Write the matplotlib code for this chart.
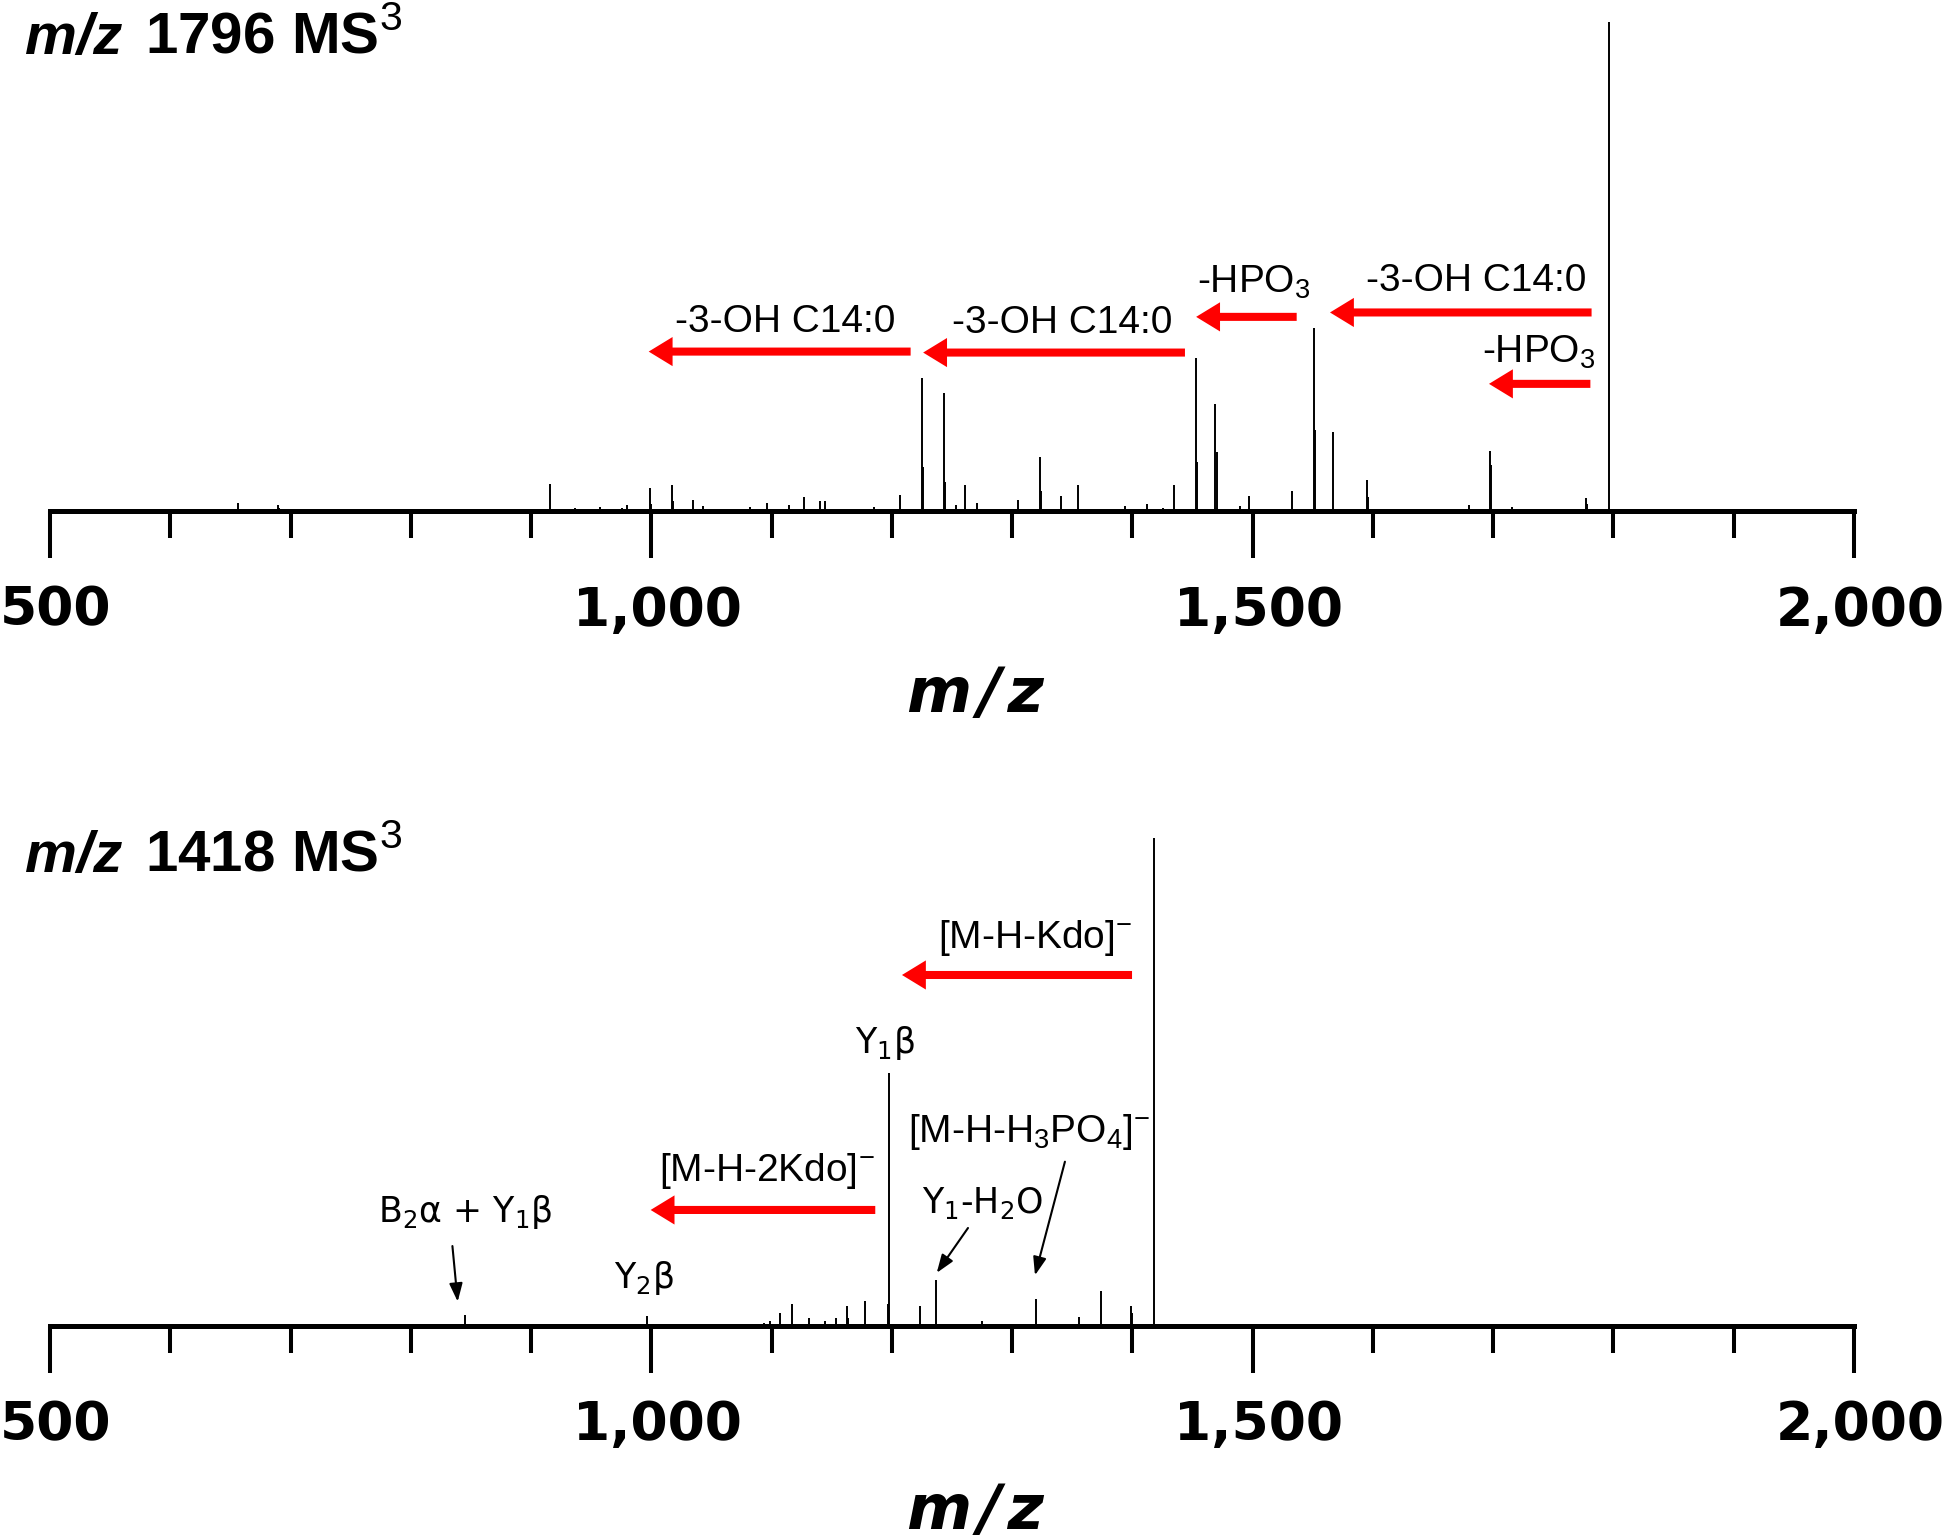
import numpy as np
import matplotlib
matplotlib.use("Agg")
import matplotlib.pyplot as plt
from matplotlib.ticker import MultipleLocator, FuncFormatter
from matplotlib.transforms import ScaledTranslation

plt.rcParams["mathtext.fontset"] = "custom"
plt.rcParams["mathtext.rm"] = "Liberation Sans"

# spectrum 1: m/z 1796 MS3 (relative intensity, %)
top_mz = [656, 689.5, 690.5, 798, 850, 916, 936.6, 957, 975.6, 980, 999, 1000,
          1017, 1018, 1034.6, 1042.7, 1082, 1096.4, 1114.6, 1127, 1140.6, 1144.5,
          1155, 1185, 1207, 1225.3, 1226.3, 1243, 1244, 1253, 1260.8, 1270.6,
          1305, 1323, 1324, 1341, 1355, 1394, 1412, 1425.5, 1435, 1453, 1454,
          1469, 1470, 1489.4, 1497, 1533, 1550.7, 1551.7, 1567, 1595, 1596,
          1680, 1697.3, 1698.3, 1715.3, 1777, 1778, 1796.5]
top_int = [1.6, 1.3, 0.6, 0.4, 0.4, 5.6, 0.6, 0.8, 0.6, 1.3, 4.7, 1.5,
           5.3, 2.0, 2.3, 1.0, 0.8, 1.6, 1.2, 2.9, 2.0, 2.0,
           0.5, 0.8, 3.3, 27.3, 9.0, 24.2, 6.0, 1.3, 5.3, 1.6,
           2.3, 11.1, 4.0, 3.0, 5.3, 1.0, 1.5, 0.7, 5.3, 31.2, 10.0,
           21.8, 12.0, 1.0, 3.0, 4.0, 37.5, 16.6, 16.2, 6.4, 2.9,
           1.2, 12.3, 9.5, 0.8, 2.7, 1.5, 100]

# spectrum 2: m/z 1418 MS3
bot_mz = [844.8, 996, 1093.6, 1099, 1106.6, 1117, 1131.4, 1144, 1153.6, 1162.4,
          1163.4, 1178, 1196.9, 1197.9, 1223.6, 1236.7, 1275.2, 1319.8, 1355.6,
          1373.6, 1399, 1400, 1418.2]
bot_int = [2.2, 2.0, 0.5, 1.0, 2.5, 4.5, 1.6, 1.0, 1.5, 3.9,
           1.5, 5.1, 4.5, 51.7, 3.9, 9.4, 1.0, 5.5, 1.8,
           7.0, 3.9, 2.5, 100]

tick_values = [500, 1000, 1500, 2000]

W, H = 1947, 1538


def fx(px):
    return px / W


def fy(py):
    return 1 - py / H


fig = plt.figure(figsize=(W / 100, H / 100), dpi=100)
ax1 = fig.add_axes([fx(50), fy(511), 1804 / W, 489 / H])
ax2 = fig.add_axes([fx(50), fy(1325.5), 1804 / W, 487.5 / H])


def style_axis(ax):
    ax.set_xlim(500, 2000)
    ax.set_ylim(0, 100)
    for s in ["left", "right", "top"]:
        ax.spines[s].set_visible(False)
    ax.spines["bottom"].set_linewidth(3.6)
    ax.set_yticks([])
    ax.set_xticks(tick_values)
    ax.xaxis.set_minor_locator(MultipleLocator(100))
    ax.xaxis.set_major_formatter(FuncFormatter(lambda v, p: f"{int(v):,}"))
    ax.tick_params(axis="x", which="major", direction="out", length=34,
                   width=2.9, pad=19, labelsize=38.5)
    ax.tick_params(axis="x", which="minor", direction="out", length=19.5,
                   width=2.9)
    shift = ScaledTranslation(6 / 100, 0, fig.dpi_scale_trans)
    for t in ax.xaxis.get_major_ticks():
        t.label1.set_fontfamily("DejaVu Sans")
        t.label1.set_fontweight("bold")
        t.label1.set_transform(t.label1.get_transform() + shift)


def red_arrow(ax, tail, tip, y):
    ax.annotate("", xy=(tip, y), xytext=(tail, y),
                arrowprops=dict(arrowstyle="simple,head_length=0.86,head_width=1.05,tail_width=0.29",
                                fc="red", ec="red", lw=0, shrinkA=0, shrinkB=0,
                                mutation_scale=20))


def black_arrow(ax, start, end):
    ax.annotate("", xy=end, xytext=start,
                arrowprops=dict(arrowstyle="-|>,head_length=0.55,head_width=0.2",
                                color="black", lw=1.5, shrinkA=0, shrinkB=0,
                                mutation_scale=20))


arial = dict(fontfamily="Liberation Sans", fontsize=28, va="baseline")
dvs = dict(fontfamily="DejaVu Sans", fontsize=25, va="baseline")

# ---- top spectrum ----
style_axis(ax1)
ax1.vlines(top_mz, 0, top_int, colors="black", lw=1.4)

red_arrow(ax1, 1781.8, 1564.3, 40.6)
ax1.text(1777.7, 44.9, "-3-OH C14:0", ha="right", **arial)
red_arrow(ax1, 1780.8, 1696.5, 26.0)
ax1.text(1784.8, 30.4, r"-HPO$_\mathregular{3}$", ha="right", **arial)
red_arrow(ax1, 1536.6, 1453, 39.7)
ax1.text(1453.4, 44.6, r"-HPO$_\mathregular{3}$", ha="left", **arial)
red_arrow(ax1, 1443.7, 1226, 32.4)
ax1.text(1250, 36.5, "-3-OH C14:0", ha="left", **arial)
red_arrow(ax1, 1215.6, 997.8, 32.6)
ax1.text(1020, 36.7, "-3-OH C14:0", ha="left", **arial)

# ---- bottom spectrum ----
style_axis(ax2)
ax2.vlines(bot_mz, 0, bot_int, colors="black", lw=1.4)

red_arrow(ax2, 1399.7, 1208.4, 71.9)
ax2.text(1399.4, 77.4, r"[M-H-Kdo]$^\mathregular{-}$", ha="right", **arial)
red_arrow(ax2, 1186.2, 999.4, 23.7)
ax2.text(1186, 29.7, r"[M-H-2Kdo]$^\mathregular{-}$", ha="right", **arial)
ax2.text(1313.9, 37.7, r"[M-H-H$_\mathregular{3}$PO$_\mathregular{4}$]$^\mathregular{-}$",
         ha="center", **arial)
black_arrow(ax2, (1343.9, 33.6), (1319, 10.3))

ax2.text(1194.3, 55.8, r"Y$_\mathregular{1}$β", ha="center", **dvs)
ax2.text(1275.7, 23.0, r"Y$_\mathregular{1}$-H$_\mathregular{2}$O", ha="center", **dvs)
black_arrow(ax2, (1263.3, 20.0), (1237.3, 10.8))
ax2.text(993.9, 7.6, r"Y$_\mathregular{2}$β", ha="center", **dvs)
ax2.text(845, 21.3, r"B$_\mathregular{2}$α + Y$_\mathregular{1}$β", ha="center", **dvs)
black_arrow(ax2, (834.6, 16.3), (839, 4.9))

# ---- titles and axis labels ----
for base_y, ion in [(54, "1796"), (872, "1418")]:
    fig.text(fx(25), fy(base_y), "m/z", fontfamily="Liberation Sans",
             fontweight="bold", fontstyle="italic", fontsize=42, va="baseline")
    fig.text(fx(145), fy(base_y), ion + r" MS$^\mathrm{3}$",
             fontfamily="Liberation Sans", fontweight="bold", fontsize=42,
             va="baseline")

for base_y in [711.7, 1528.7]:
    fig.text(fx(975), fy(base_y), "m\u200a/\u200az", fontfamily="DejaVu Sans",
             fontweight="bold", fontstyle="italic", fontsize=45,
             ha="center", va="baseline")

fig.savefig("out.png", dpi=100)
